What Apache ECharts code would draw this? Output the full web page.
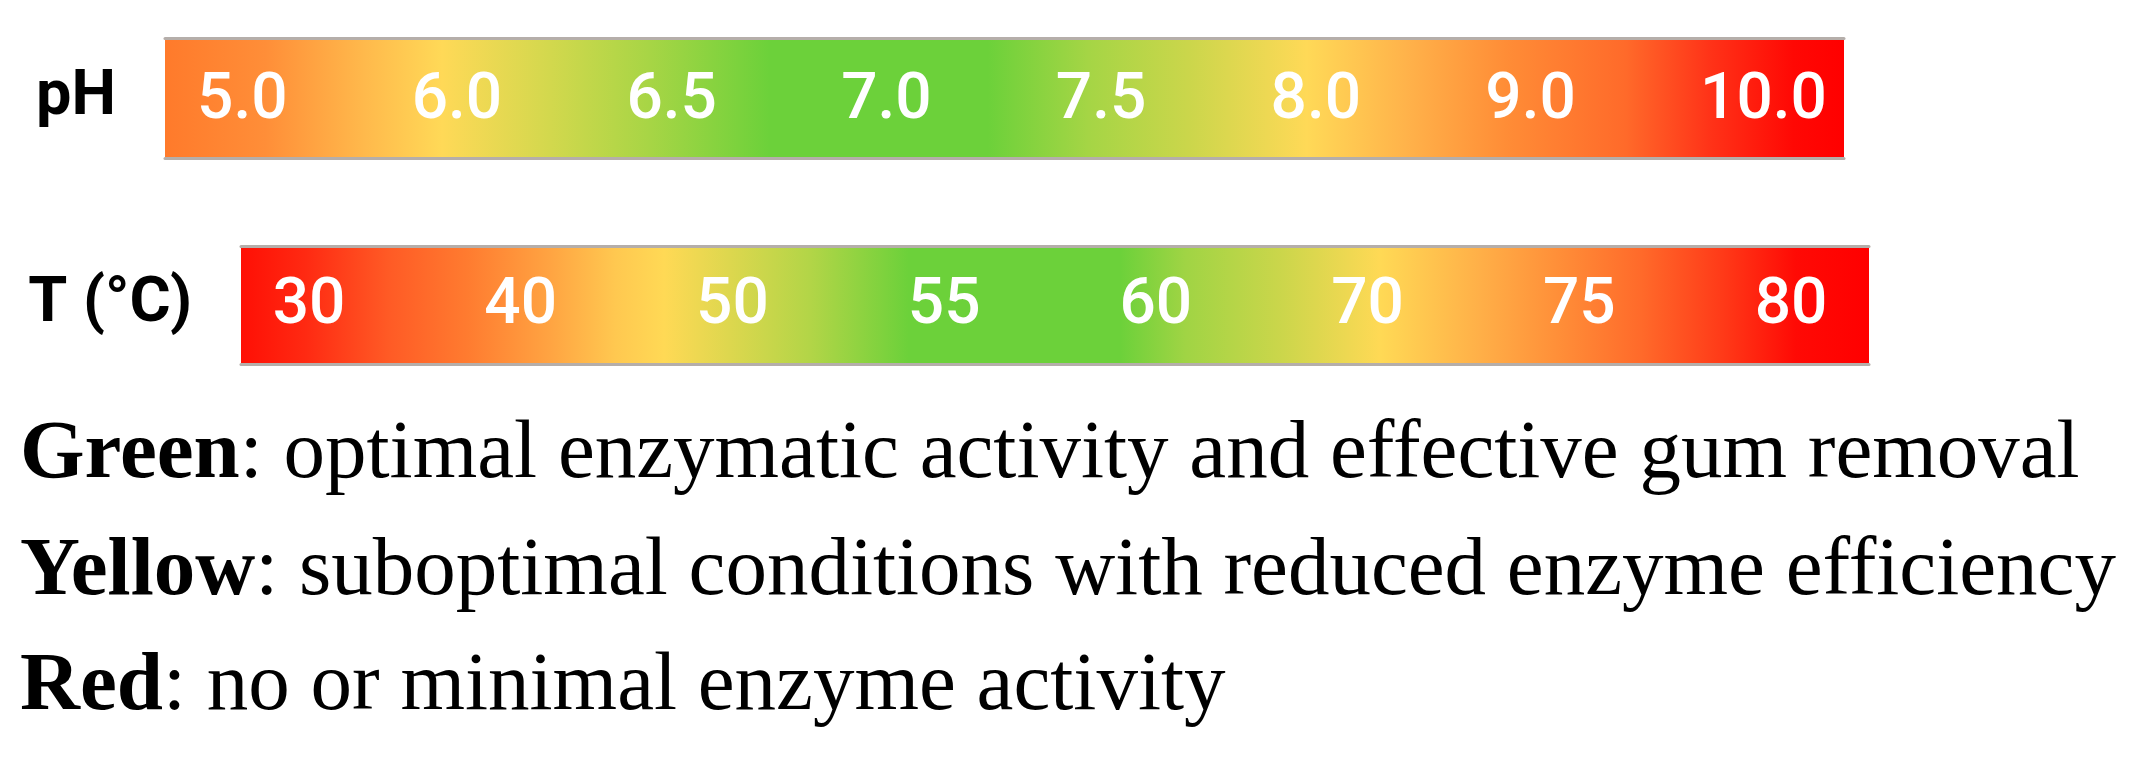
<!DOCTYPE html>
<html>
<head>
<meta charset="utf-8">
<script src="https://cdn.jsdelivr.net/npm/echarts@6/dist/echarts.min.js"></script>
<style>
html, body { margin: 0; padding: 0; background: #ffffff; }
#chart { width: 2147px; height: 763px; }
</style>
</head>
<body>
<div id="chart"></div>
<script>
// ---- data ----
const rowNames = ['pH', 'T (°C)'];
const phTicks = ['5.0', '6.0', '6.5', '7.0', '7.5', '8.0', '9.0', '10.0'];
const tTicks = ['30', '40', '50', '55', '60', '70', '75', '80'];
const barExtent = [1, 1];   // each strip spans the full scale
const legendKeys = ['Green', 'Yellow', 'Red'];
const legendTexts = [
  'optimal enzymatic activity and effective gum removal',
  'suboptimal conditions with reduced enzyme efficiency',
  'no or minimal enzyme activity'
];

// ---- styles ----
const phStops = [
  [0, '#FF7A2B'], [0.06, '#FF8E38'], [0.12, '#FFBA4C'], [0.165, '#FFD957'],
  [0.23, '#D2D84D'], [0.29, '#A6D545'], [0.36, '#6CD13A'], [0.49, '#6CD13A'],
  [0.55, '#A5D545'], [0.61, '#CBD64B'], [0.68, '#FFD957'], [0.74, '#FFB24A'],
  [0.80, '#FF8C36'], [0.87, '#FF6A2A'], [0.92, '#FF3318'], [0.97, '#FF0804'],
  [1, '#FF0000']
];
const tStops = [
  [0, '#FF0F05'], [0.04, '#FF2A12'], [0.09, '#FF5A25'], [0.14, '#FF7C30'],
  [0.19, '#FFA442'], [0.23, '#FFC850'], [0.26, '#FFD955'], [0.30, '#DDD74E'],
  [0.35, '#B2D547'], [0.41, '#6CD13A'], [0.54, '#6CD13A'], [0.58, '#A0D444'],
  [0.64, '#CCD64B'], [0.70, '#FFD955'], [0.76, '#FFB048'], [0.81, '#FF8E38'],
  [0.86, '#FF6A2A'], [0.91, '#FF3A18'], [0.955, '#FF0A05'], [1, '#FF0000']
];
const edgeColor = '#b5aeaa';

function grad(stops) {
  return new echarts.graphic.LinearGradient(0, 0, 1, 0,
    stops.map(s => ({ offset: s[0], color: s[1] })));
}

const chart = echarts.init(document.getElementById('chart'), null, { renderer: 'canvas' });

const barGrids = [
  { left: 165, top: 38, width: 1679, height: 120 },
  { left: 241, top: 246, width: 1628, height: 118 }
];
const labelGrids = [
  { left: 197, top: 101, width: 1503, height: 1 },
  { left: 309, top: 306, width: 1482, height: 1 }
];
const stopsList = [phStops, tStops];
const tickList = [phTicks, tTicks];
const alignList = ['left', 'center'];

const grid = [], xAxis = [], yAxis = [], series = [];
for (let i = 0; i < 2; i++) {
  // bar grid
  const g = grid.length;
  grid.push(barGrids[i]);
  xAxis.push({
    type: 'value', gridIndex: g, min: 0, max: 1, position: 'bottom',
    axisLine: { show: true, onZero: false, lineStyle: { color: edgeColor, width: 3 } },
    axisTick: { show: false }, axisLabel: { show: false }, splitLine: { show: false }, z: 5
  });
  const xi = xAxis.length - 1;
  xAxis.push({
    type: 'value', gridIndex: g, min: 0, max: 1, position: 'top',
    axisLine: { show: true, onZero: false, lineStyle: { color: edgeColor, width: 3 } },
    axisTick: { show: false }, axisLabel: { show: false }, splitLine: { show: false }, z: 5
  });
  yAxis.push({
    type: 'category', gridIndex: g, data: [rowNames[i]],
    axisLine: { show: false }, axisTick: { show: false }, splitLine: { show: false },
    axisLabel: {
      show: true, margin: 49, color: '#000', fontFamily: 'Roboto',
      fontWeight: 'bold', fontSize: 63
    }
  });
  const yi = yAxis.length - 1;
  series.push({
    type: 'bar', xAxisIndex: xi, yAxisIndex: yi,
    data: [barExtent[i]], barWidth: '100%', silent: true,
    itemStyle: { color: grad(stopsList[i]) }
  });

  // tick label grid
  const lg = grid.length;
  grid.push(labelGrids[i]);
  xAxis.push({
    type: 'category', gridIndex: lg, data: tickList[i], boundaryGap: false,
    position: 'bottom', z: 10,
    axisLine: { show: false }, axisTick: { show: false }, splitLine: { show: false },
    axisLabel: {
      show: true, interval: 0, margin: 0, hideOverlap: false,
      color: '#ffffff', fontFamily: 'Roboto', fontWeight: 500, fontSize: 64,
      align: alignList[i], verticalAlign: 'middle'
    }
  });
  yAxis.push({
    type: 'value', gridIndex: lg, show: false, min: 0, max: 1
  });
}

const legendFont = 'Liberation Serif';
const legendSize = 83;
const legendTops = [414, 531, 646];
const title = legendKeys.map((k, i) => ({
  text: '{b|' + k + '}: ' + legendTexts[i],
  left: 20, top: legendTops[i], padding: 0,
  textStyle: {
    fontFamily: legendFont, fontSize: legendSize, fontWeight: 'normal',
    color: '#000', lineHeight: legendSize,
    rich: {
      b: { fontFamily: legendFont, fontSize: legendSize, fontWeight: 'bold',
           color: '#000', lineHeight: legendSize }
    }
  }
}));

chart.setOption({
  backgroundColor: '#ffffff',
  animation: false,
  title: title,
  grid: grid,
  xAxis: xAxis,
  yAxis: yAxis,
  series: series
});
</script>
</body>
</html>
